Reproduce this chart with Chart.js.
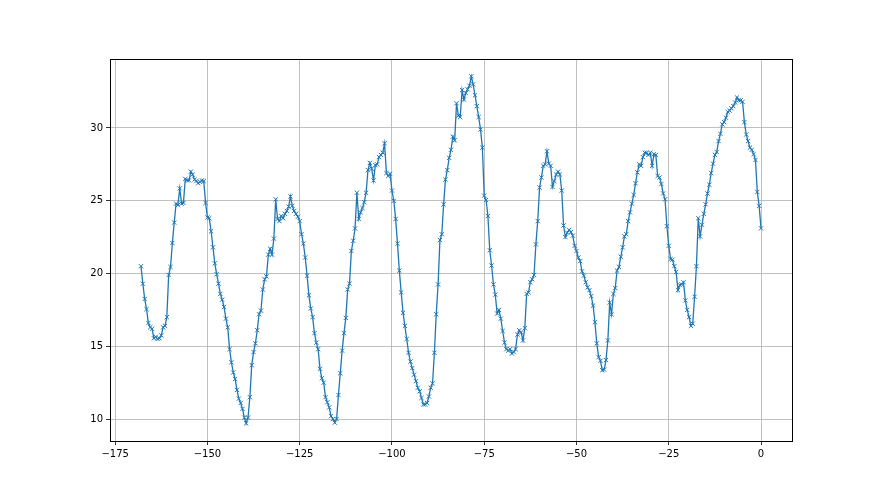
<!DOCTYPE html>
<html>
<head>
<meta charset="utf-8">
<script src="https://cdn.jsdelivr.net/npm/chart.js@4.4.1/dist/chart.umd.min.js"></script>
<style>
  body { margin: 0; background: #ffffff; }
  canvas { display: block; }
</style>
</head>
<body>
<canvas id="chart" width="880" height="495"></canvas>
<script>
// hours before now, one reading every half hour
let startHour = -168;
let stepHours = 0.5;

let temps = [
    20.5, 19.3, 18.25, 17.55, 16.6, 16.3, 16.2, 15.55, 15.65, 15.5, 15.55, 15.75, 16.3, 16.4, 17.0, 19.9, 20.45, 22.1,
    23.5, 24.8, 24.7, 25.85, 24.8, 24.85, 26.5, 26.4, 26.4, 27.0, 26.8, 26.45, 26.35, 26.2, 26.3, 26.4, 26.35,
    24.85, 23.85, 23.8, 22.9, 21.8, 20.7, 19.95, 19.3, 18.6, 18.2, 17.7, 16.9, 16.3, 14.8, 13.9, 13.2, 12.75, 12.0, 11.4,
    11.1, 10.7, 10.1, 9.7, 10.1, 11.5, 13.7, 14.6, 15.2, 16.1, 17.2, 17.45, 18.9, 19.6, 19.8, 21.3, 21.7, 21.3, 22.4,
    25.1, 23.75, 23.6, 23.95, 23.8, 24.1, 24.3, 24.6, 25.3, 24.65, 24.3, 24.1, 23.9, 23.6, 22.7, 22.05, 21.1,
    19.85, 18.5, 17.6, 17.0, 15.9, 15.25, 14.8, 13.45, 12.8, 12.5, 11.5, 11.15, 10.8, 10.2, 10.0, 9.75, 10.0, 11.65,
    13.15, 14.7, 15.9, 16.95, 18.9, 19.3, 21.55, 22.25, 23.1,
    25.55, 23.75, 24.2, 24.5, 24.9, 25.55, 27.1, 27.6, 27.2, 26.4, 27.45, 27.5, 28.0, 28.15, 28.3, 28.95, 26.9, 26.7, 26.85, 25.7,
    25.0, 23.75, 22.05, 20.2, 18.7, 17.3, 16.4, 15.5, 14.55, 13.95, 13.5, 13.05, 12.6, 12.15, 11.9, 11.45, 11.0, 11.0,
    11.1, 11.55, 12.15, 12.45, 14.55, 17.2, 19.25, 22.3, 22.7, 24.75, 26.45, 27.1, 27.95, 28.5, 29.4, 29.15, 31.7, 30.85,
    30.75, 32.6, 31.95, 32.4, 32.65, 32.9, 33.55, 33.0, 32.25, 31.5, 30.75, 29.9, 28.65,
    25.35, 25.05, 23.95, 21.6, 20.55, 19.25, 18.55, 17.25, 17.5, 16.9, 16.05, 15.25, 14.8, 14.7, 14.8, 14.5, 14.6, 14.8,
    15.8, 16.1, 15.95, 15.4, 16.25, 18.6, 18.7, 19.4, 19.6, 19.9, 22.0, 23.6, 25.9, 26.6, 27.4, 27.5, 28.4, 27.55, 27.4,
    25.95, 26.35, 26.8, 27.0, 26.8, 25.7, 23.3, 22.5, 22.8, 23.0,
    22.85, 22.6, 21.9, 21.55, 21.1, 20.85, 20.15, 19.85, 19.4, 19.05, 18.85, 18.45, 17.8, 16.65, 15.2, 14.25, 14.0, 13.35,
    13.4, 14.05, 15.4, 18.0, 17.2, 18.6, 19.0, 20.2, 20.45, 21.15, 21.8, 22.55, 22.7, 23.6, 24.2, 24.8, 25.4, 26.2, 26.95,
    27.5, 27.4, 28.0, 28.3, 28.3, 28.15, 28.3, 27.4, 28.2, 28.15, 26.7, 26.6, 26.15, 25.5, 25.1, 23.25, 21.9, 21.0, 20.95,
    20.5, 20.1, 18.85, 19.2, 19.25, 19.4, 18.15, 17.5, 17.0, 16.4, 16.55, 18.4, 20.5,
    23.8, 22.55, 23.35, 24.1, 24.75, 25.5, 26.1, 26.9, 27.55, 28.15, 28.35, 29.1, 29.6, 30.25, 30.4, 30.7, 31.1, 31.2,
    31.35, 31.5, 31.75, 32.1, 31.9, 31.9, 31.8, 30.4, 29.55, 29.1, 28.65, 28.5, 28.2, 27.8, 25.6, 24.65, 23.1
];

let xTicks = [-175, -150, -125, -100, -75, -50, -25, 0];
let yTicks = [10, 15, 20, 25, 30];

function buildPoints(values) {
    return values.map(function (v, i) {
        return { x: startHour + i * stepHours, y: v };
    });
}

function minusSign(value) {
    return String(value).replace('-', '\u2212');
}

// matplotlib style box around the plot area
let frame = {
    id: 'frame',
    afterDraw: function (chart) {
        let a = chart.chartArea;
        let ctx = chart.ctx;
        ctx.save();
        ctx.strokeStyle = '#000000';
        ctx.lineWidth = 1;
        ctx.strokeRect(Math.round(a.left) + 0.5, Math.round(a.top) + 0.5,
            Math.round(a.right - a.left), Math.round(a.bottom - a.top));
        ctx.restore();
    }
};

function axisOptions(tickValues, min, max, size, isX) {
    return {
        type: 'linear',
        min: min,
        max: max,
        afterBuildTicks: function (scale) {
            scale.ticks = tickValues.map(function (v) { return { value: v }; });
        },
        afterFit: function (scale) {
            if (isX) {
                scale.height = size;
            } else {
                scale.width = size;
            }
        },
        grid: {
            color: '#b0b0b0',
            lineWidth: 0.8,
            drawTicks: true,
            tickLength: 4,
            tickColor: '#000000',
            tickWidth: 0.8
        },
        border: { display: false },
        ticks: {
            color: '#000000',
            padding: 3,
            maxRotation: 0,
            autoSkip: false,
            font: { family: 'DejaVu Sans', size: 10 },
            callback: function (value) {
                return minusSign(value);
            }
        }
    };
}

let ctx = document.getElementById('chart').getContext('2d');
let chart = new Chart(ctx, {
    type: 'line',
    data: {
        datasets: [
            {
                data: buildPoints(temps),
                borderColor: '#1f77b4',
                backgroundColor: '#1f77b4',
                borderWidth: 1.3,
                pointStyle: 'crossRot',
                pointRadius: 3,
                pointBorderWidth: 1,
                pointBorderColor: '#1f77b4',
                fill: false,
                tension: 0
            }
        ]
    },
    options: {
        responsive: false,
        animation: false,
        events: [],
        layout: {
            padding: { left: 70, right: 88, top: 59, bottom: 24 }
        },
        plugins: {
            legend: { display: false },
            tooltip: { enabled: false }
        },
        scales: {
            x: axisOptions(xTicks, -176.4, 8.4, 30, true),
            y: axisOptions(yTicks, 8.49, 34.74, 40, false)
        }
    },
    plugins: [frame]
});
</script>
</body>
</html>
